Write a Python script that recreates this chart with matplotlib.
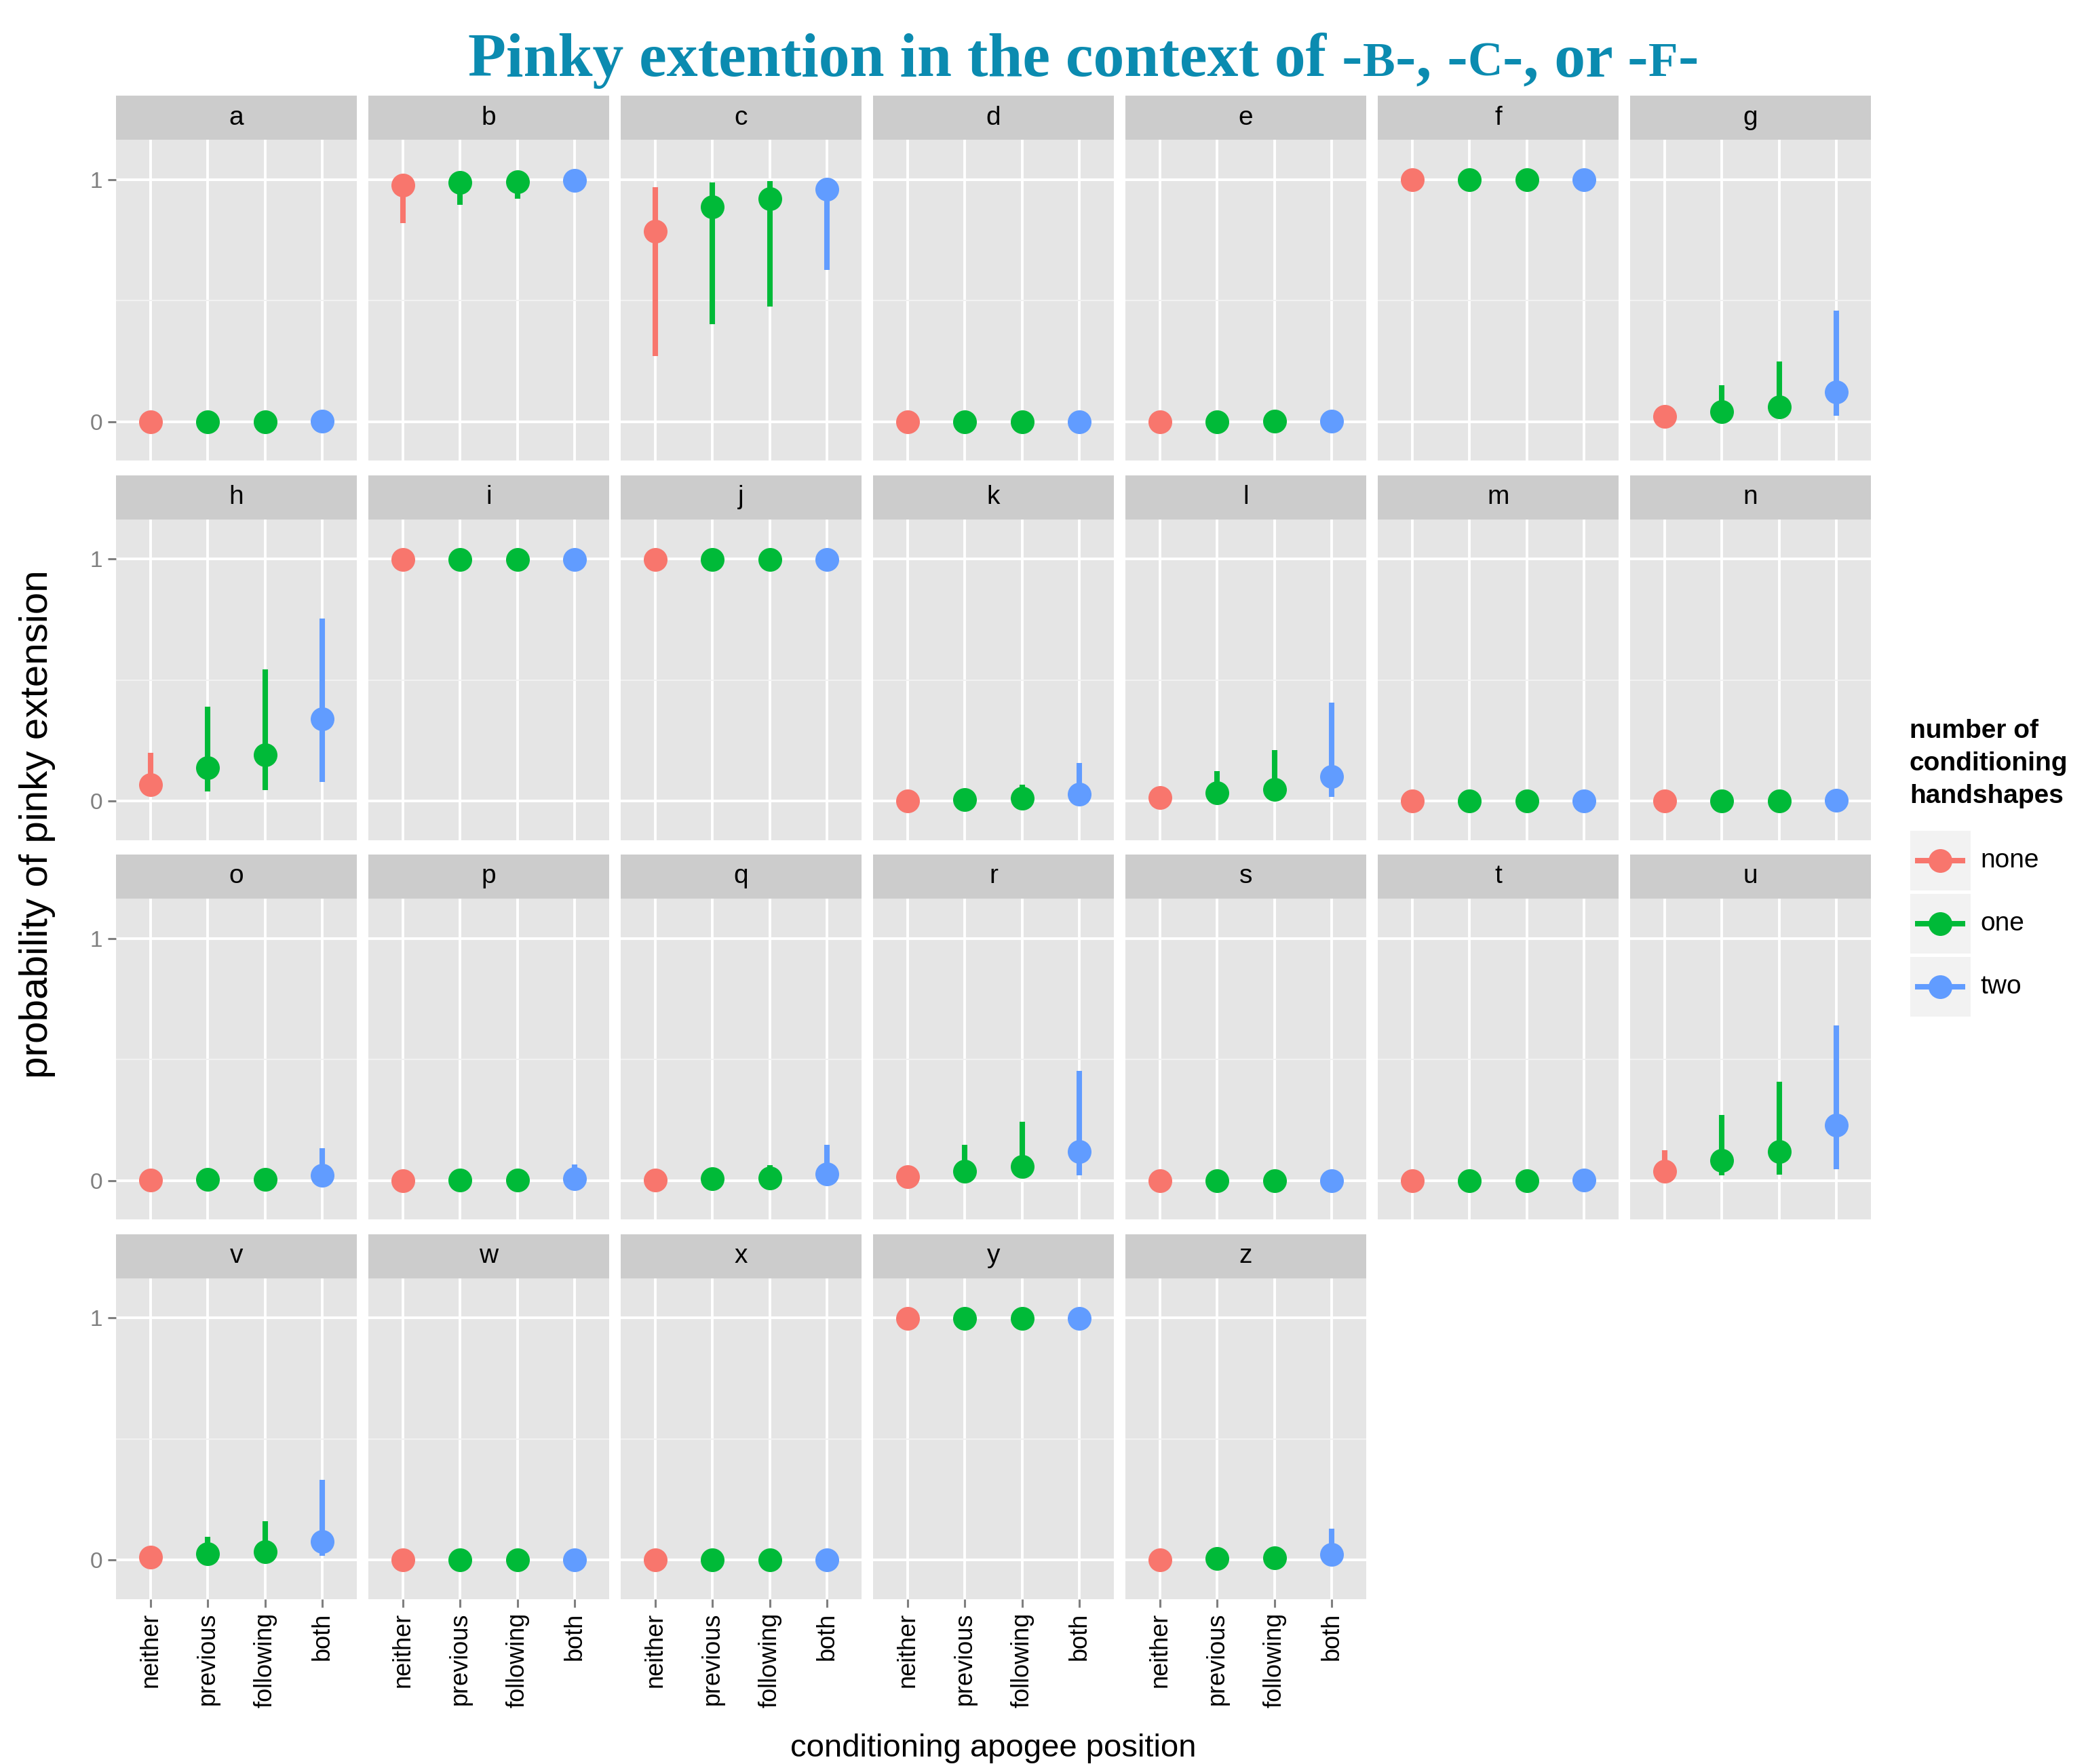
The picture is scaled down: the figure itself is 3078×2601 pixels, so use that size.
import matplotlib
matplotlib.use('Agg')
import matplotlib.pyplot as plt
from matplotlib.patches import Rectangle

# facets and categories
letters = list('abcdefghijklmnopqrstuvwxyz')
positions = ['neither', 'previous', 'following', 'both']
n_handshapes = ['none', 'one', 'one', 'two']
group_names = ['none', 'one', 'two']
group_colors = ['#F8766D', '#00BA38', '#619CFF']

# estimated probability per letter, one value per position
est = [
    [0.001, 0.001, 0.001, 0.002],  # a
    [0.976, 0.988, 0.991, 0.996],  # b
    [0.786, 0.888, 0.921, 0.960],  # c
    [0.001, 0.001, 0.001, 0.001],  # d
    [0.001, 0.001, 0.002, 0.003],  # e
    [0.999, 0.999, 0.999, 0.999],  # f
    [0.021, 0.043, 0.060, 0.124],  # g
    [0.068, 0.138, 0.191, 0.339],  # h
    [0.999, 0.999, 0.999, 0.999],  # i
    [0.999, 0.999, 0.999, 0.999],  # j
    [0.002, 0.006, 0.011, 0.029],  # k
    [0.015, 0.034, 0.048, 0.101],  # l
    [0.001, 0.001, 0.001, 0.002],  # m
    [0.001, 0.001, 0.002, 0.005],  # n
    [0.003, 0.004, 0.006, 0.022],  # o
    [0.001, 0.003, 0.003, 0.007],  # p
    [0.003, 0.007, 0.010, 0.027],  # q
    [0.017, 0.040, 0.059, 0.120],  # r
    [0.001, 0.001, 0.001, 0.001],  # s
    [0.001, 0.001, 0.001, 0.002],  # t
    [0.040, 0.084, 0.121, 0.230],  # u
    [0.011, 0.025, 0.035, 0.077],  # v
    [0.001, 0.001, 0.002, 0.002],  # w
    [0.001, 0.001, 0.001, 0.001],  # x
    [0.999, 0.999, 0.999, 0.999],  # y
    [0.001, 0.006, 0.009, 0.023],  # z
]
lower = [
    [0.000, 0.000, 0.000, 0.000],
    [0.821, 0.896, 0.920, 0.970],
    [0.270, 0.404, 0.475, 0.626],
    [0.000, 0.000, 0.000, 0.000],
    [0.000, 0.000, 0.000, 0.000],
    [0.990, 0.990, 0.990, 0.990],
    [0.005, 0.012, 0.015, 0.024],
    [0.025, 0.039, 0.045, 0.080],
    [0.990, 0.990, 0.990, 0.990],
    [0.990, 0.990, 0.990, 0.990],
    [0.000, 0.001, 0.002, 0.005],
    [0.004, 0.009, 0.012, 0.019],
    [0.000, 0.000, 0.000, 0.000],
    [0.000, 0.000, 0.000, 0.000],
    [0.000, 0.000, 0.001, 0.003],
    [0.000, 0.000, 0.000, 0.001],
    [0.000, 0.001, 0.002, 0.004],
    [0.004, 0.010, 0.014, 0.022],
    [0.000, 0.000, 0.000, 0.000],
    [0.000, 0.000, 0.000, 0.000],
    [0.012, 0.022, 0.026, 0.047],
    [0.003, 0.006, 0.008, 0.018],
    [0.000, 0.000, 0.000, 0.000],
    [0.000, 0.000, 0.000, 0.000],
    [0.990, 0.990, 0.990, 0.990],
    [0.000, 0.001, 0.002, 0.004],
]
upper = [
    [0.010, 0.010, 0.010, 0.020],
    [0.999, 0.999, 0.999, 1.000],
    [0.970, 0.989, 0.994, 0.999],
    [0.010, 0.010, 0.010, 0.010],
    [0.010, 0.010, 0.020, 0.030],
    [1.000, 1.000, 1.000, 1.000],
    [0.060, 0.151, 0.248, 0.459],
    [0.200, 0.391, 0.544, 0.754],
    [1.000, 1.000, 1.000, 1.000],
    [1.000, 1.000, 1.000, 1.000],
    [0.020, 0.030, 0.068, 0.159],
    [0.050, 0.125, 0.210, 0.406],
    [0.010, 0.010, 0.010, 0.020],
    [0.010, 0.010, 0.020, 0.030],
    [0.020, 0.020, 0.030, 0.133],
    [0.010, 0.020, 0.020, 0.066],
    [0.020, 0.030, 0.063, 0.148],
    [0.060, 0.147, 0.243, 0.453],
    [0.010, 0.010, 0.010, 0.010],
    [0.010, 0.010, 0.010, 0.020],
    [0.127, 0.271, 0.409, 0.640],
    [0.040, 0.095, 0.162, 0.331],
    [0.010, 0.010, 0.020, 0.020],
    [0.010, 0.010, 0.010, 0.010],
    [1.000, 1.000, 1.000, 1.000],
    [0.010, 0.030, 0.040, 0.130],
]

W, H = 3078, 2601
fig = plt.figure(figsize=(W / 200, H / 200), dpi=200)

ncol = 7
last_row = (len(letters) - 1) // ncol
x0, pw, pitch_x = 171, 355, 372
y0, sh, ph, pitch_y = 141, 65, 473, 559.5
sans = 'Liberation Sans'
xs = list(range(1, len(positions) + 1))

for i, letter in enumerate(letters):
    r, c = divmod(i, ncol)
    left = (x0 + c * pitch_x) / W
    strip_top = y0 + r * pitch_y
    panel_top = strip_top + sh
    panel_bottom = panel_top + ph

    ax = fig.add_axes([left, 1 - panel_bottom / H, pw / W, ph / H])
    sax = fig.add_axes([left, 1 - panel_top / H, pw / W, sh / H])

    # strip
    sax.set_facecolor('#CCCCCC')
    sax.set_xticks([])
    sax.set_yticks([])
    for s in sax.spines.values():
        s.set_visible(False)
    sax.text(0.5, 0.5, letter, ha='center', va='center', fontsize=14,
             family=sans, transform=sax.transAxes)

    # panel
    ax.set_facecolor('#E5E5E5')
    for s in ax.spines.values():
        s.set_visible(False)
    ax.set_xlim(0.4, 4.6)
    ax.set_ylim(-0.16, 1.165)
    ax.set_xticks(xs)
    ax.set_yticks([0, 1])
    ax.set_yticks([0.5], minor=True)
    ax.grid(True, which='major', color='white', lw=1.4)
    ax.grid(True, which='minor', axis='y', color='#F2F2F2', lw=0.7)
    ax.set_axisbelow(True)
    ax.tick_params(which='minor', length=0)

    for j, x in enumerate(xs):
        col = group_colors[group_names.index(n_handshapes[j])]
        ax.vlines(x, lower[i][j], upper[i][j], color=col, lw=2.9, zorder=3)
        ax.plot(x, est[i][j], 'o', color=col, ms=12.6, mec='none', zorder=4)

    if c == 0:
        ax.set_yticklabels(['0', '1'], fontsize=12, color='#7F7F7F', family=sans)
        ax.tick_params(axis='y', length=4.25, width=1.1, color='#7F7F7F', pad=3)
    else:
        ax.tick_params(axis='y', length=0, labelleft=False)

    if r == last_row:
        ax.set_xticklabels(positions, rotation=90, fontsize=13, family=sans,
                           color='black')
        ax.tick_params(axis='x', length=4.25, width=1.1, color='#7F7F7F', pad=3)
    else:
        ax.tick_params(axis='x', length=0, labelbottom=False)

# axis titles
panels_right = x0 + (ncol - 1) * pitch_x + pw
fig.text((x0 + panels_right) / 2 / W, 1 - 2578 / H, 'conditioning apogee position',
         ha='center', va='center', fontsize=17, family=sans)
fig.text(55 / W, 1 - 1215 / H, 'probability of pinky extension', rotation=90,
         ha='center', va='center', fontsize=21, family=sans)

# legend, drawn in figure pixels
lax = fig.add_axes([0, 0, 1, 1])
lax.set_xlim(0, W)
lax.set_ylim(H, 0)
lax.axis('off')
lax.patch.set_alpha(0)
lax.text(2815, 1060, 'number of\nconditioning\nhandshapes', ha='left', va='top',
         fontsize=14, weight='bold', family=sans, linespacing=1.42)
for k, (name, gc) in enumerate(zip(group_names, group_colors)):
    top = 1225 + k * 93
    cy = top + 44
    lax.add_patch(Rectangle((2816, top), 89, 88, facecolor='#F2F2F2', edgecolor='none'))
    lax.plot([2823, 2897], [cy, cy], color=gc, lw=2.9, solid_capstyle='butt')
    lax.plot(2860, cy, 'o', color=gc, ms=12.6, mec='none')
    lax.text(2919, cy, name, ha='left', va='center', fontsize=14, family=sans)

# title with small capitals for the handshape names
pieces = [('Pinky extention in the context of -', 1.0), ('B', 0.78), ('-, -', 1.0),
          ('C', 0.78), ('-, or -', 1.0), ('F', 0.78), ('-', 1.0)]
title_size = 33
renderer = fig.canvas.get_renderer()
texts = []
x = 0.0
for s, k in pieces:
    t = fig.text(x, 1 - 112 / H, s, ha='left', va='baseline', fontsize=title_size * k,
                 family='Liberation Serif', weight='bold', color='#0B8BB0')
    w = t.get_window_extent(renderer).width / W
    texts.append((t, x))
    x += w
shift = 1597 / W - x / 2
for t, px in texts:
    t.set_x(px + shift)

fig.savefig('out.png', dpi=200)
